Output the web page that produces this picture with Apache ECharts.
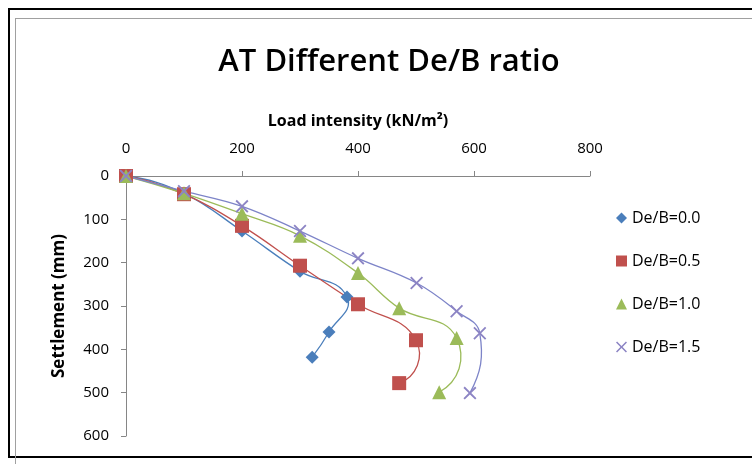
<!DOCTYPE html>
<html><head><meta charset="utf-8">
<script src="https://cdn.jsdelivr.net/npm/echarts@6/dist/echarts.min.js"></script>
<style>
html,body{margin:0;padding:0;background:#fff;}
#frame{position:absolute;left:8px;top:8px;width:760px;height:450px;border:2px solid #000;box-sizing:border-box;}
#inner{position:absolute;left:15px;top:18px;width:760px;height:460px;border:1px solid #a0a0a0;box-sizing:border-box;}
#c{position:absolute;left:0;top:0;width:752px;height:464px;}
</style></head>
<body>
<div id="frame"></div>
<div id="inner"></div>
<div id="c"></div>
<script>
const seriesNames = ['De/B=0.0','De/B=0.5','De/B=1.0','De/B=1.5'];
const load00 = [0, 100, 200, 300, 381, 350, 321];
const settle00 = [0, 40, 127, 220, 279, 360, 418];
const load05 = [0, 100, 200, 300, 400, 500, 471];
const settle05 = [0, 42, 115, 207, 296, 379, 478];
const load10 = [0, 100, 200, 300, 400, 471, 570, 540];
const settle10 = [0, 40, 87, 138, 224, 305, 374, 499];
const load15 = [0, 100, 200, 300, 400, 501, 570, 610, 593];
const settle15 = [0, 35, 70, 127, 190, 247, 312, 363, 501];
const xTicks = [0, 200, 400, 600, 800];
const yTicks = [0, 100, 200, 300, 400, 500, 600];

const loads = [load00, load05, load10, load15];
const settles = [settle00, settle05, settle10, settle15];
const markerColors = ['#4A7EBB', '#C0504D', '#9BBB59', '#8C84C4'];
const lineColors = ['#4A7EBB', '#C0504D', '#9BBB59', '#7D84C8'];
const crossPath = 'path://M0,1L1,0L5,4L9,0L10,1L6,5L10,9L9,10L5,6L1,10L0,9L4,5Z';
const symbols = ['diamond', 'rect', 'triangle', crossPath];
const symbolSizes = [13, 14, 14, 13];
const font = 'Open Sans';

function pairs(xs, ys){ return xs.map((x,i)=>[x, ys[i]]); }

// reflect point c across the perpendicular bisector of segment a-b
function reflect(c, a, b){
  const mx=(a[0]+b[0])/2, my=(a[1]+b[1])/2;
  const ux=b[0]-a[0], uy=b[1]-a[1];
  const L=Math.hypot(ux,uy)||1, nx=ux/L, ny=uy/L;
  const dot=(c[0]-mx)*nx+(c[1]-my)*ny;
  return [c[0]-2*dot*nx, c[1]-2*dot*ny];
}
const dist = (a,b)=>Math.hypot(b[0]-a[0], b[1]-a[1]);
// smooth Bezier curve through the pixel positions of the data points
function smoothSegments(pts, color){
  const n = pts.length, c = 0.4;
  const dir = pts.map((p,i)=>{
    if (i===0||i===n-1) return null;
    const vx=pts[i+1][0]-pts[i-1][0], vy=pts[i+1][1]-pts[i-1][1];
    const L=Math.hypot(vx,vy)||1; return [vx/L, vy/L];
  });
  const out = [];
  for (let i=0;i<n-1;i++){
    const p0=pts[i], p1=pts[i+1], arm=dist(p0,p1)*c;
    let c1 = dir[i] ? [p0[0]+dir[i][0]*arm, p0[1]+dir[i][1]*arm] : null;
    let c2 = dir[i+1] ? [p1[0]-dir[i+1][0]*arm, p1[1]-dir[i+1][1]*arm] : null;
    if (!c1 && !c2){ c1=p0; c2=p1; }
    else if (!c1) c1 = reflect(c2, p0, p1);
    else if (!c2) c2 = reflect(c1, p0, p1);
    out.push({type:'bezierCurve', silent:true,
      shape:{x1:p0[0], y1:p0[1], cpx1:c1[0], cpy1:c1[1], cpx2:c2[0], cpy2:c2[1], x2:p1[0], y2:p1[1]},
      style:{fill:'none', stroke:color, lineWidth:1.3}});
  }
  return out;
}

const chart = echarts.init(document.getElementById('c'));
const series = [];
loads.forEach((xs, s) => {
  series.push({
    name:'curve'+s, type:'custom', silent:true, z:1,
    data:[[xs[0], settles[s][0]]],
    renderItem:(params, api)=>{
      const pts = xs.map((x,i)=>api.coord([x, settles[s][i]]));
      return {type:'group', children: smoothSegments(pts, lineColors[s])};
    }
  });
});
loads.forEach((xs, s) => {
  series.push({
    name:seriesNames[s], type:'scatter', z:3,
    data:pairs(xs, settles[s]), symbol:symbols[s], symbolSize:symbolSizes[s],
    itemStyle:{color:markerColors[s], opacity:1}, emphasis:{disabled:true}
  });
});

chart.setOption({
  animation:false,
  title:{text:'AT Different De/B ratio', left:384, top:42, textAlign:'center',
    textStyle:{fontFamily:font, fontSize:31, fontWeight:600, color:'#000'}},
  legend:{orient:'vertical', left:611, top:205, itemGap:27, itemWidth:11, itemHeight:11,
    textStyle:{fontFamily:font, fontSize:16, color:'#000'}, data:seriesNames},
  grid:{left:126, right:162, top:176, bottom:28},
  xAxis:{type:'value', position:'top', min:0, max:800, interval:200,
    name:'Load intensity (kN/m²)', nameLocation:'middle', nameGap:47,
    nameTextStyle:{fontFamily:font, fontSize:16, fontWeight:'bold', color:'#000'},
    axisLine:{lineStyle:{color:'#868686'}}, axisTick:{show:true, length:5, lineStyle:{color:'#868686'}},
    splitLine:{show:false},
    axisLabel:{fontFamily:font, fontSize:15, color:'#000', margin:20,
      formatter:v=>xTicks.includes(v)?String(v):''}},
  yAxis:{type:'value', inverse:true, min:0, max:600, interval:100,
    name:'Settlement (mm)', nameLocation:'middle', nameGap:58, nameRotate:90,
    nameTextStyle:{fontFamily:font, fontSize:17, fontWeight:'bold', color:'#000'},
    axisLine:{show:true, lineStyle:{color:'#868686'}}, axisTick:{show:true, length:5, lineStyle:{color:'#868686'}},
    splitLine:{show:false},
    axisLabel:{fontFamily:font, fontSize:15, color:'#000', margin:17,
      formatter:v=>yTicks.includes(v)?String(v):''}},
  series
});
</script>
</body></html>
